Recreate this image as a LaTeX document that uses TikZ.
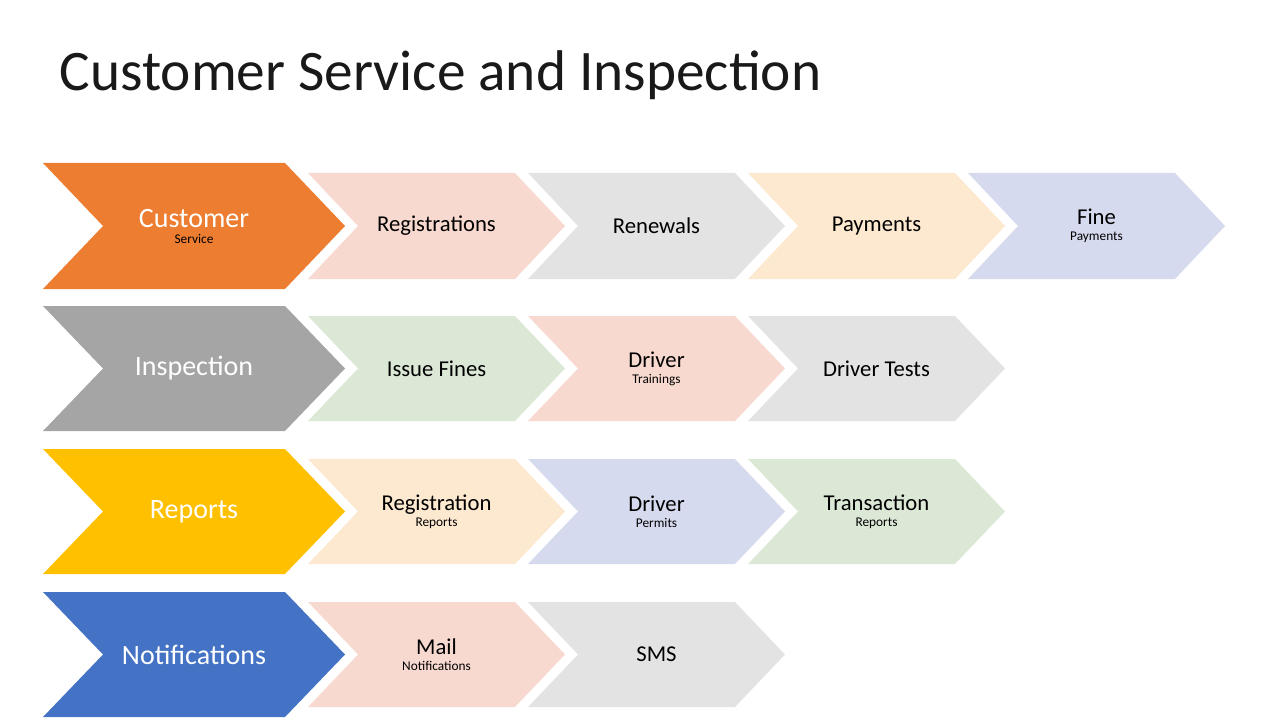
\documentclass[tikz,border=0pt]{standalone}
\usepackage{fontspec}
\setmainfont{Carlito}
\definecolor{csorange}{HTML}{ED7D31}
\definecolor{insgray}{HTML}{A5A5A5}
\definecolor{repgold}{HTML}{FFC000}
\definecolor{notblue}{HTML}{4472C4}
\definecolor{lpink}{HTML}{F8D9CF}
\definecolor{lgray}{HTML}{E3E3E3}
\definecolor{lorange}{HTML}{FDE8D0}
\definecolor{llav}{HTML}{D6DAEE}
\definecolor{lgreen}{HTML}{DCE8D6}
% chevron: name, left x, top y, width, height, notch depth, colour, text
\newcommand\chev[8]{%
  \fill[#7] (#2,#3) -- ++(#4-#6,0) -- ++(#6,#5/2) -- ++(-#6,#5/2)
    -- ++(-#4+#6,0) -- ++(#6,-#5/2) -- cycle;
  \node[align=center] (#1) at (#2+#4/2,#3+#5/2) {#8};}
\begin{document}
\begin{tikzpicture}[x=0.75pt,y=-0.75pt,
    main/.style={text=white,font=\fontsize{21}{24}\selectfont},
    sub/.style={text=black!85,font=\fontsize{17}{19}\selectfont}]
  \useasboundingbox (0,0) rectangle (1280,720);
  \node[anchor=west,font=\fontsize{43}{50}\selectfont,text=black!90] (title) at (55,75) {Customer Service and Inspection};
  % rows
  \chev{cs}{43}{163}{302}{126}{60}{csorange}{\tikzset{main}\fontsize{21}{29}\selectfont\color{white}Customer\\Service}
  \chev{reg}{308}{173}{257}{106}{50}{lpink}{\fontsize{17}{19}\selectfont Registrations}
  \chev{ren}{528}{173}{257}{106}{50}{lgray}{\fontsize{17}{19}\selectfont Renewals}
  \chev{pay}{748}{173}{257}{106}{50}{lorange}{\fontsize{17}{19}\selectfont Payments}
  \chev{fine}{968}{173}{257}{106}{50}{llav}{\fontsize{17}{24}\selectfont Fine\\Payments}
  %
  \chev{ins}{43}{306}{302}{125}{60}{insgray}{\fontsize{21}{24}\selectfont\color{white}Inspection}
  \chev{iss}{308}{316}{257}{105}{50}{lgreen}{\fontsize{17}{19}\selectfont Issue Fines}
  \chev{trn}{528}{316}{257}{105}{50}{lpink}{\fontsize{17}{24}\selectfont Driver\\Trainings}
  \chev{tst}{748}{316}{257}{105}{50}{lgray}{\fontsize{17}{19}\selectfont Driver Tests}
  %
  \chev{rep}{43}{449}{302}{125}{60}{repgold}{\fontsize{21}{24}\selectfont\color{white}Reports}
  \chev{rrp}{308}{459}{257}{105}{50}{lorange}{\fontsize{17}{24}\selectfont Registration\\Reports}
  \chev{per}{528}{459}{257}{105}{50}{llav}{\fontsize{17}{32}\selectfont Driver\\Permits}
  \chev{trp}{748}{459}{257}{105}{50}{lgreen}{\fontsize{17}{24}\selectfont Transaction\\Reports}
  %
  \chev{not}{43}{592}{302}{125}{60}{notblue}{\fontsize{21}{24}\selectfont\color{white}Notifications}
  \chev{mail}{308}{602}{257}{105}{50}{lpink}{\fontsize{17}{24}\selectfont Mail\\Notifications}
  \chev{sms}{528}{602}{257}{105}{50}{lgray}{\fontsize{17}{19}\selectfont SMS}
\end{tikzpicture}
\end{document}
